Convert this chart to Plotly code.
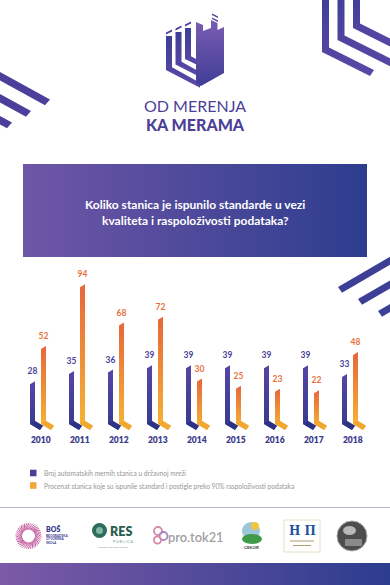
import plotly.graph_objects as go
import math

# ---------------- data ----------------
years = ["2010", "2011", "2012", "2013", "2014", "2015", "2016", "2017", "2018"]
stations = [28, 35, 36, 39, 39, 39, 39, 39, 33]
percent = [52, 94, 68, 72, 30, 25, 23, 22, 48]
legend_labels = [
    "Broj automatskih mernih stanica u državnoj mreži",
    "Procenat stanica koje su ispunile standard i postigle preko 90% raspoloživosti podataka",
]
title_lines = ["Koliko stanica je ispunilo standarde u vezi", "kvaliteta i raspoloživosti podataka?"]
brand_lines = ["OD MERENJA", "KA MERAMA"]

# ---------------- layout constants ----------------
W, H = 390, 585
FONT = "Lato, sans-serif"
ORANGE_T = "#e8663b"
YELLOW_B = "#f6b632"

BASE_PX = 424.0          # pixel row of value 0
PPU = 1.47               # pixels per value unit
G0_PX, GSTEP = 40.5, 39.0
Y_MIN, Y_MAX = -16, 106
ux = 1.0 / GSTEP
uy = 1.0 / PPU

fig = go.Figure()

# ---------- helpers for decoration (pixel overlay axes x2/y2) ----------
def deco(xs, ys, color=None, grad=None, gtype="vertical"):
    kw = dict(x=list(xs) + [xs[0]], y=list(ys) + [ys[0]], xaxis="x2", yaxis="y2",
              mode="lines", fill="toself", line=dict(width=0), hoverinfo="skip",
              showlegend=False)
    if grad:
        kw["fillgradient"] = dict(type=gtype, colorscale=grad)
        kw["fillcolor"] = grad[0][1]
    else:
        kw["fillcolor"] = color
    fig.add_trace(go.Scatter(**kw))

def ann(x, y, text, size, color, weight="normal", family=FONT, xanchor="center", **kw):
    fig.add_annotation(x=x, y=y, xref="x2", yref="y2", text=text, showarrow=False,
                       xanchor=xanchor, yanchor="middle", borderpad=0,
                       font=dict(family=family, size=size, color=color, weight=weight), **kw)

# ---------- top-right chevrons ----------
def chevron_down(L, Y, E, w=7, t=8, s=0.5, cut=0):
    xs = [L, L + w, L + w, E, E - cut, L]
    ys = [-5, -5, Y - t + s * w, Y - t + s * (E - L), Y + s * (E - cut - L), Y]
    return xs, ys

for L, Y, E, cut in [(322, 52, 374, 4), (337.5, 40, 400, 0), (353, 28, 400, 0)]:
    xs, ys = chevron_down(L, Y, E, cut=cut)
    deco(xs, ys, grad=[[0, "#5a47a6"], [1, "#3f3f97"]])

# ---------- left stripes ----------
s = 0.55
for y0, E in [(72, 50), (94, 31), (116, 12)]:
    xs = [-5, E, E - 5, -5]
    ys = [y0 - 5 * s, y0 + s * E, y0 + s * (E - 5) + 8.5, y0 - 5 * s + 8.5]
    deco(xs, ys, color="#4a409c")

# ---------- right middle stripes ----------
s = 0.58
for Lk, Yk in [(338, 287), (358, 299), (378, 311)]:
    xs = [Lk, 395, 395, Lk + 4]
    ys = [Yk, Yk - s * (395 - Lk), Yk - s * (395 - Lk) + 8, Yk - 4 * s + 8]
    deco(xs, ys, color="#3c3f95")

# ---------- logo icon ----------
bx = 200  # bottom vertex x
for k, (x0, yt) in enumerate([(166, 36), (175.5, 32), (185, 28)]):
    w, t, sl = 6, 6, 0.55
    yb = 70 - k * 5.5
    xs = [x0, x0 + w, x0 + w, bx, bx, x0]
    ys = [yt, yt, yb - t + sl * w, yb - t + sl * (bx - x0), yb + sl * (bx - x0) - 1, yb]
    deco(xs, ys, grad=[[0, "#5a48a8"], [1, "#3e3e95"]])
    deco([x0, x0 + w, x0 + w, x0], [yt - 3.5, yt - 6.5, yt - 4.5, yt - 1.5], color="#4a3f9c")
deco([196, 203, 203, 211, 211, 217.5, 217.5, 224, 224, 201, 196],
     [22, 25, 31, 28, 20, 23, 30, 27, 73, 86, 83],
     grad=[[0, "#3f3d96"], [1, "#7b5db2"]])
deco([212, 218, 218, 212], [13.5, 16.5, 18, 15], color="#4a3f9c")
deco([212, 218, 218, 212], [17.5, 20.5, 22, 19], color="#4a3f9c")

ann(195, 105.5, brand_lines[0], 16, "#4d3f98", weight=400)
ann(195, 124, brand_lines[1], 16, "#4d3f98", weight=900)

# ---------- title banner ----------
deco([23, 367, 367, 23], [164, 164, 257, 257],
     grad=[[0, "#6f56a7"], [1, "#2d3d8e"]], gtype="horizontal")
ann(195, 204.5, title_lines[0], 12, "white", weight=700)
ann(195, 220.5, title_lines[1], 12, "white", weight=700)

# ---------- bars (data axes x/y) ----------
def bar_poly(i, v, off_l):
    xl = i + off_l * ux
    xr = xl + 5 * ux
    body_x = [xl, xr, xr, xl + 13 * ux, xl + 10 * ux, xl, xl]
    body_y = [v - 1.5 * uy, v + 1.5 * uy, 3 * uy, -1.8 * uy, -6 * uy, 0, v - 1.5 * uy]
    foot_x = [xl, xr, xl + 13 * ux, xl + 10 * ux, xl]
    foot_y = [0, 3 * uy, -1.8 * uy, -6 * uy, 0]
    return body_x, body_y, foot_x, foot_y, xl + 2.5 * ux

series = [
    (stations, -10.5, [[0, "#353a8e"], [1, "#5646a6"]], "#2c3283", "#4a3f9b"),
    (percent, 0.5, [[0, YELLOW_B], [1, ORANGE_T]], "#f2a630", "#e8703d"),
]
for vals, off, grad, footc, labc in series:
    lx, ly, lt = [], [], []
    for i, v in enumerate(vals):
        bx_, by_, fx_, fy_, cx = bar_poly(i, v, off)
        fig.add_trace(go.Scatter(x=bx_, y=by_, mode="lines", fill="toself",
                                 fillcolor=grad[1][1], line=dict(width=0),
                                 fillgradient=dict(type="vertical", colorscale=grad),
                                 hoverinfo="skip", showlegend=False))
        fig.add_trace(go.Scatter(x=fx_, y=fy_, mode="lines", fill="toself",
                                 fillcolor=footc, line=dict(width=0),
                                 hoverinfo="skip", showlegend=False, opacity=0.85))
        lx.append(cx)
        ly.append(v + 10.5 * uy)
        lt.append(str(v))
    fig.add_trace(go.Scatter(x=lx, y=ly, text=lt, mode="text", hoverinfo="skip",
                             showlegend=False, cliponaxis=False,
                             textfont=dict(family=FONT, size=8.5, color=labc, weight=700)))

fig.add_trace(go.Scatter(x=[i + 0.3 * ux for i in range(len(years))],
                         y=[-17 * uy] * len(years), text=years, mode="text",
                         hoverinfo="skip", showlegend=False, cliponaxis=False,
                         textfont=dict(family=FONT, size=8.5, color="#3b3a8b", weight=800)))

# ---------- legend ----------
for (yc, col), lab in zip([(473, "#4b3f9c"), (485.5, "#f3a53a")], legend_labels):
    deco([30, 36.5, 36.5, 30], [yc - 3.3, yc - 3.3, yc + 3.3, yc + 3.3], color=col)
    ann(43, yc, lab, 6.6, "#969696", xanchor="left")

# separator
fig.add_shape(type="line", xref="x2", yref="y2", x0=0, x1=390, y0=507.5, y1=507.5,
              line=dict(color="#b4b8cc", width=1))

# ---------- partner logos ----------
cxr, cyr = 28.5, 536
for k in range(40):
    a = 2 * math.pi * k / 40
    col = "#e2457c" if (k % 2 == 0) else "#8e3fa0"
    fig.add_shape(type="line", xref="x2", yref="y2",
                  x0=cxr + 6.5 * math.cos(a), y0=cyr + 6.5 * math.sin(a),
                  x1=cxr + 13 * math.cos(a + 0.5), y1=cyr + 13 * math.sin(a + 0.5),
                  line=dict(color=col, width=0.8))
ann(45, 529, "BOŠ", 7, "#35398c", weight=800, xanchor="left")
for j, t in enumerate(["BEOGRADSKA", "OTVORENA", "ŠKOLA"]):
    ann(45, 535.5 + j * 3.6, t, 3.2, "#35398c", weight=700, xanchor="left")

fig.add_shape(type="circle", xref="x2", yref="y2", x0=92, x1=107, y0=523, y1=538,
              fillcolor="#2e6d5b", line=dict(width=0))
fig.add_shape(type="circle", xref="x2", yref="y2", x0=96, x1=103, y0=527, y1=534,
              fillcolor="#7fb8a2", line=dict(width=0))
ann(109, 531, "RES", 12.5, "#2b5e4f", weight=800, xanchor="left")
ann(112, 541, "P U B L I C A", 3.6, "#6f9a8c", xanchor="left")
ann(113, 546.5, "Inicijativa za javne politike", 2.6, "#7a9a90")

for (px, py, r, c) in [(158, 531, 4, "#d88aa5"), (163.5, 536, 4, "#a488c8"), (157.5, 540, 3.6, "#d88aa5")]:
    fig.add_shape(type="circle", xref="x2", yref="y2", x0=px - r, x1=px + r, y0=py - r, y1=py + r,
                  line=dict(color=c, width=1.8))
ann(167, 536.5, "pro.tok21", 12.8, "#a0a0a0", weight=600, xanchor="left")

fig.add_shape(type="circle", xref="x2", yref="y2", x0=242, x1=260, y0=522, y1=540,
              fillcolor="#9cc7da", line=dict(width=0))
fig.add_shape(type="circle", xref="x2", yref="y2", x0=251, x1=259, y0=522, y1=530,
              fillcolor="#f0c640", line=dict(width=0))
fig.add_shape(type="circle", xref="x2", yref="y2", x0=242, x1=262, y0=534, y1=544,
              fillcolor="#3f9a4a", line=dict(width=0))
ann(251, 547, "CEKOR", 4.5, "#3a3a3a", weight=700)

fig.add_shape(type="rect", xref="x2", yref="y2", x0=284, x1=320, y0=520, y1=552,
              line=dict(color="#e3e0c8", width=1), fillcolor="white")
ann(302, 530.5, "Н П", 12, "#2250a0", weight=700, family="DejaVu Serif, serif")
for yy, w2 in [(541, 12), (545.5, 9)]:
    fig.add_shape(type="line", xref="x2", yref="y2", x0=302 - w2, x1=302 + w2, y0=yy, y1=yy,
                  line=dict(color="#b09a70", width=1))

fig.add_shape(type="circle", xref="x2", yref="y2", x0=337, x1=367, y0=521, y1=551,
              fillcolor="#4c4c4c", line=dict(color="#a8a8a8", width=1))
fig.add_shape(type="circle", xref="x2", yref="y2", x0=343, x1=356, y0=526, y1=535,
              fillcolor="#b8b8b8", line=dict(width=0))
fig.add_shape(type="rect", xref="x2", yref="y2", x0=345, x1=362, y0=539, y1=546,
              fillcolor="#8a8a8a", line=dict(width=0))

# bottom band
deco([0, 390, 390, 0], [563, 563, 590, 590],
     grad=[[0, "#7c5aa7"], [1, "#2c3c8e"]], gtype="horizontal")

# ---------- axes ----------
dom_bottom_px = BASE_PX - Y_MIN * PPU
dom_top_px = BASE_PX - Y_MAX * PPU
fig.update_layout(
    width=W, height=H, margin=dict(l=0, r=0, t=0, b=0),
    paper_bgcolor="white", plot_bgcolor="rgba(0,0,0,0)",
    showlegend=False, hovermode=False,
    xaxis=dict(domain=[0, 1], range=[(0 - G0_PX) / GSTEP, (W - G0_PX) / GSTEP],
               visible=False, fixedrange=True),
    yaxis=dict(domain=[1 - dom_bottom_px / H, 1 - dom_top_px / H], range=[Y_MIN, Y_MAX],
               visible=False, fixedrange=True),
    xaxis2=dict(domain=[0, 1], range=[0, W], visible=False, fixedrange=True, anchor="y2"),
    yaxis2=dict(domain=[0, 1], range=[H, 0], visible=False, fixedrange=True, anchor="x2"),
)

fig.write_html("out.html", config={"displayModeBar": False},
               post_script="document.body.style.margin='0';document.body.style.padding='0';"
                           "document.body.style.overflow='hidden';")
